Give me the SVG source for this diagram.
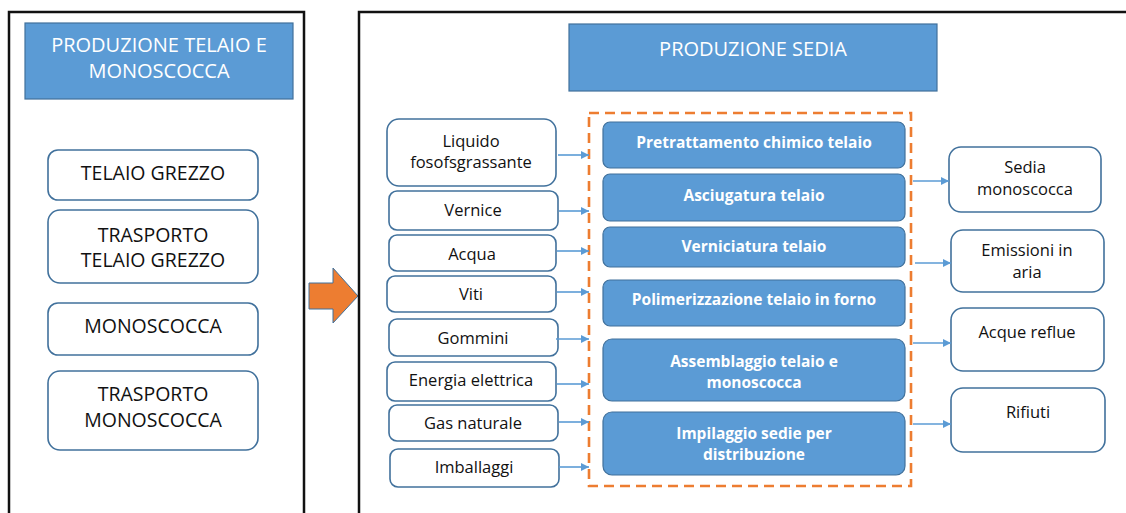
<svg xmlns="http://www.w3.org/2000/svg" width="1126" height="513" viewBox="0 0 1126 513">
<style>
  text { font-family: "Open Sans", "Noto Sans", sans-serif; text-anchor: middle; }
  .frame { fill: none; stroke: #111; stroke-width: 2.5; }
  .hdr { fill: #5B9BD5; stroke: #41719C; stroke-width: 1.2; }
  .hdrt { fill: #fff; font-size: 20px; }
  .wbox { fill: #fff; stroke: #41719C; stroke-width: 1.6; }
  .bigt { fill: #111; font-size: 19.5px; }
  .smt { fill: #111; font-size: 16.5px; }
  .pbox { fill: #5B9BD5; stroke: #41719C; stroke-width: 1.2; }
  .pt { fill: #fff; font-size: 15.5px; font-weight: bold; }
  .conn { stroke: #5B9BD5; stroke-width: 1.6; fill: none; marker-end: url(#ah); }
  .dash { fill: none; stroke: #ED7D31; stroke-width: 2.6; stroke-dasharray: 10 6; }
</style>
<defs>
  <marker id="ah" viewBox="0 0 10 10" refX="10" refY="5" markerWidth="10" markerHeight="8" markerUnits="userSpaceOnUse" orient="auto">
    <path d="M0,0 L10,5 L0,10 Z" fill="#5B9BD5"/>
  </marker>
</defs>
<rect width="1126" height="513" fill="#fff"/>

<g id="left-panel">
  <path class="frame" d="M9,520 V12 H304 V520"/>
  <rect class="hdr" x="25" y="23" width="268" height="76"/>
  <text class="hdrt" x="159" y="52">PRODUZIONE TELAIO E</text>
  <text class="hdrt" x="159" y="78">MONOSCOCCA</text>
</g>
<g id="telaio-grezzo">
  <rect class="wbox" x="48" y="150" width="210" height="50" rx="10"/>
  <text class="bigt" x="153" y="180">TELAIO GREZZO</text>
</g>
<g id="trasporto-telaio">
  <rect class="wbox" x="48" y="210" width="210" height="73" rx="12"/>
  <text class="bigt" x="153" y="242">TRASPORTO</text>
  <text class="bigt" x="153" y="267">TELAIO GREZZO</text>
</g>
<g id="monoscocca">
  <rect class="wbox" x="48" y="303" width="210" height="52" rx="10"/>
  <text class="bigt" x="153" y="333">MONOSCOCCA</text>
</g>
<g id="trasporto-monoscocca">
  <rect class="wbox" x="48" y="371" width="210" height="79" rx="12"/>
  <text class="bigt" x="153" y="401">TRASPORTO</text>
  <text class="bigt" x="153" y="427">MONOSCOCCA</text>
</g>

<g id="big-arrow">
  <path d="M309,283 H333 V268 L358,296 L333,323 V309 H309 Z" fill="#ED7D31" stroke="#41719C" stroke-width="1"/>
</g>

<g id="right-panel">
  <path class="frame" d="M359,520 V12 H1126"/>
  <rect class="hdr" x="569" y="24" width="368" height="67"/>
  <text class="hdrt" x="753" y="56">PRODUZIONE SEDIA</text>
  <rect class="dash" x="589" y="113" width="322" height="373"/>
</g>

<g id="p1"><rect class="pbox" x="603" y="122" width="302" height="46" rx="7"/><text class="pt" x="754" y="148">Pretrattamento chimico telaio</text></g>
<g id="p2"><rect class="pbox" x="603" y="174" width="302" height="47" rx="7"/><text class="pt" x="754" y="201">Asciugatura telaio</text></g>
<g id="p3"><rect class="pbox" x="603" y="227" width="302" height="40" rx="7"/><text class="pt" x="754" y="252">Verniciatura telaio</text></g>
<g id="p4"><rect class="pbox" x="603" y="280" width="302" height="46" rx="7"/><text class="pt" x="754" y="305">Polimerizzazione telaio in forno</text></g>
<g id="p5"><rect class="pbox" x="603" y="339" width="302" height="62" rx="9"/><text class="pt" x="754" y="367">Assemblaggio telaio e</text><text class="pt" x="754" y="388">monoscocca</text></g>
<g id="p6"><rect class="pbox" x="603" y="412" width="302" height="63" rx="9"/><text class="pt" x="754" y="439">Impilaggio sedie per</text><text class="pt" x="754" y="460">distribuzione</text></g>

<g id="in1"><rect class="wbox" x="387" y="119" width="169" height="67" rx="12"/><text class="smt" x="471" y="147">Liquido</text><text class="smt" x="471" y="168">fosofsgrassante</text></g>
<g id="in2"><rect class="wbox" x="389" y="191" width="169" height="39" rx="8"/><text class="smt" x="473" y="216">Vernice</text></g>
<g id="in3"><rect class="wbox" x="389" y="235" width="167" height="36" rx="8"/><text class="smt" x="472" y="260">Acqua</text></g>
<g id="in4"><rect class="wbox" x="387" y="276" width="169" height="36" rx="8"/><text class="smt" x="471" y="300">Viti</text></g>
<g id="in5"><rect class="wbox" x="389" y="319" width="169" height="37" rx="8"/><text class="smt" x="473" y="344">Gommini</text></g>
<g id="in6"><rect class="wbox" x="387" y="362" width="169" height="39" rx="8"/><text class="smt" x="471" y="386">Energia elettrica</text></g>
<g id="in7"><rect class="wbox" x="389" y="405" width="169" height="36" rx="8"/><text class="smt" x="473" y="429">Gas naturale</text></g>
<g id="in8"><rect class="wbox" x="390" y="449" width="169" height="38" rx="8"/><text class="smt" x="474" y="473">Imballaggi</text></g>

<g id="out1"><rect class="wbox" x="949" y="147" width="152" height="65" rx="12"/><text class="smt" x="1025" y="173">Sedia</text><text class="smt" x="1025" y="195">monoscocca</text></g>
<g id="out2"><rect class="wbox" x="951" y="230" width="153" height="62" rx="12"/><text class="smt" x="1027" y="256">Emissioni in</text><text class="smt" x="1027" y="278">aria</text></g>
<g id="out3"><rect class="wbox" x="951" y="308" width="153" height="63" rx="12"/><text class="smt" x="1027" y="338">Acque reflue</text></g>
<g id="out4"><rect class="wbox" x="951" y="388" width="154" height="64" rx="12"/><text class="smt" x="1028" y="418">Rifiuti</text></g>

<g id="connectors">
  <line class="conn" x1="558" y1="155" x2="589" y2="155"/>
  <line class="conn" x1="559" y1="211" x2="589" y2="211"/>
  <line class="conn" x1="557" y1="251" x2="589" y2="251"/>
  <line class="conn" x1="557" y1="292" x2="589" y2="292"/>
  <line class="conn" x1="556" y1="339" x2="589" y2="339"/>
  <line class="conn" x1="557" y1="384" x2="589" y2="384"/>
  <line class="conn" x1="559" y1="422" x2="589" y2="422"/>
  <line class="conn" x1="559" y1="467" x2="589" y2="467"/>
  <line class="conn" x1="913" y1="181" x2="949" y2="181"/>
  <line class="conn" x1="915" y1="263" x2="951" y2="263"/>
  <line class="conn" x1="913" y1="343" x2="951" y2="343"/>
  <line class="conn" x1="913" y1="424" x2="951" y2="424"/>
</g>
</svg>
